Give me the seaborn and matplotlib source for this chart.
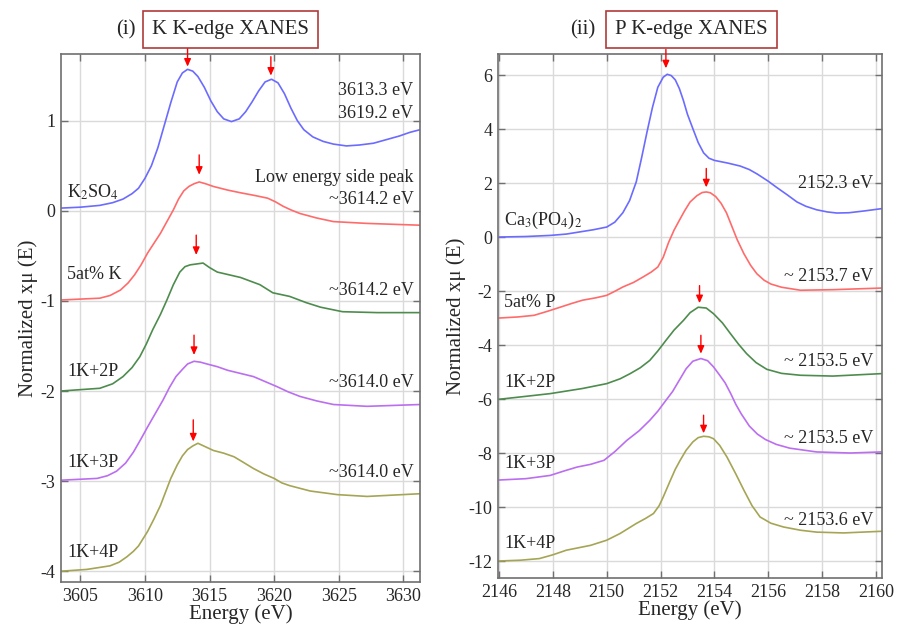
import numpy as np
import pandas as pd
import matplotlib
matplotlib.use("Agg")
import matplotlib.pyplot as plt
import seaborn as sns

# ---- K K-edge data (energy eV, normalized xmu with offsets) ----
k_k2so4_x = [3603.5, 3605.0, 3606.5, 3607.5, 3608.3, 3609.0, 3609.5, 3610.0, 3610.5, 3611.0, 3611.5,
             3612.0, 3612.5, 3612.9, 3613.3, 3613.7, 3614.1, 3614.6, 3615.1, 3615.6, 3616.1, 3616.7,
             3617.3, 3617.8, 3618.3, 3618.8, 3619.3, 3619.8, 3620.3, 3620.8, 3621.3, 3621.8, 3622.3,
             3623.0, 3623.8, 3624.6, 3625.6, 3626.6, 3627.7, 3628.7, 3629.7, 3630.5, 3631.3]
k_k2so4_y = [0.03, 0.04, 0.06, 0.09, 0.13, 0.19, 0.25, 0.36, 0.50, 0.70, 0.95,
             1.20, 1.43, 1.53, 1.57, 1.55, 1.49, 1.37, 1.22, 1.10, 1.02, 0.99,
             1.02, 1.10, 1.21, 1.33, 1.43, 1.46, 1.42, 1.30, 1.14, 1.00, 0.90,
             0.82, 0.77, 0.74, 0.72, 0.73, 0.75, 0.79, 0.83, 0.87, 0.90]

k_5atk_x = [3603.5, 3605.0, 3606.5, 3607.3, 3608.1, 3608.7, 3609.2, 3609.7, 3610.2, 3610.7, 3611.2,
            3611.7, 3612.2, 3612.6, 3613.0, 3613.4, 3613.8, 3614.2, 3614.7, 3615.3, 3616.4, 3617.4,
            3618.5, 3619.5, 3620.1, 3620.7, 3621.3, 3622.0, 3623.3, 3624.6, 3627.2, 3631.3]
k_5atk_y = [-0.99, -0.98, -0.97, -0.94, -0.88, -0.80, -0.71, -0.60, -0.47, -0.36, -0.25,
            -0.12, 0.01, 0.13, 0.22, 0.27, 0.30, 0.32, 0.30, 0.27, 0.23, 0.20,
            0.17, 0.14, 0.10, 0.05, 0.01, -0.03, -0.08, -0.12, -0.14, -0.16]

k_1k2p_x = [3603.5, 3606.5, 3607.5, 3608.3, 3609.0, 3609.6, 3610.1, 3610.6, 3611.2, 3611.7, 3612.2,
            3612.7, 3613.1, 3613.5, 3614.0, 3614.5, 3615.0, 3615.6, 3616.5, 3617.4, 3618.9, 3619.9,
            3621.2, 3622.5, 3623.6, 3625.3, 3628.0, 3631.3]
k_1k2p_y = [-2.0, -1.97, -1.92, -1.84, -1.74, -1.62, -1.48, -1.32, -1.15, -0.99, -0.82,
            -0.68, -0.62, -0.60, -0.59, -0.58, -0.63, -0.68, -0.71, -0.74, -0.82, -0.91,
            -0.95, -1.02, -1.07, -1.12, -1.13, -1.13]

k_1k3p_x = [3603.5, 3606.3, 3607.1, 3607.8, 3608.5, 3609.1, 3609.7, 3610.2, 3610.8, 3611.4, 3611.9,
            3612.4, 3612.9, 3613.3, 3613.8, 3614.3, 3614.8, 3615.6, 3616.4, 3618.4, 3620.2, 3621.1,
            3622.0, 3623.3, 3624.6, 3627.2, 3631.3]
k_1k3p_y = [-2.99, -2.97, -2.94, -2.89, -2.80, -2.68, -2.53, -2.40, -2.25, -2.10, -1.96,
            -1.84, -1.76, -1.70, -1.67, -1.68, -1.70, -1.73, -1.77, -1.84, -1.95, -2.01,
            -2.06, -2.11, -2.15, -2.17, -2.15]

k_1k4p_x = [3603.5, 3605.5, 3607.3, 3608.0, 3608.6, 3609.1, 3609.5, 3610.2, 3610.7, 3611.2, 3611.6,
            3612.0, 3612.5, 3612.9, 3613.3, 3613.7, 3614.1, 3614.7, 3615.3, 3616.1, 3616.9, 3617.6,
            3618.4, 3619.2, 3620.0, 3620.6, 3621.2, 3622.8, 3624.9, 3627.2, 3631.3]
k_1k4p_y = [-4.0, -3.98, -3.94, -3.90, -3.84, -3.78, -3.72, -3.56, -3.42, -3.27, -3.12,
            -2.97, -2.82, -2.72, -2.65, -2.61, -2.58, -2.62, -2.66, -2.69, -2.73, -2.79,
            -2.86, -2.92, -2.97, -3.02, -3.05, -3.11, -3.15, -3.17, -3.14]

# ---- P K-edge data ----
p_ca_x = [2146.0, 2147.0, 2147.9, 2148.5, 2149.0, 2149.5, 2150.0, 2150.3, 2150.6, 2150.85, 2151.1,
          2151.3, 2151.5, 2151.7, 2151.9, 2152.1, 2152.25, 2152.4, 2152.55, 2152.7, 2152.85, 2153.0,
          2153.2, 2153.4, 2153.6, 2153.8, 2154.0, 2154.5, 2154.96, 2155.3, 2155.6, 2156.0, 2156.3,
          2156.7, 2157.07, 2157.4, 2157.8, 2158.2, 2158.55, 2159.0, 2159.6, 2160.2]
p_ca_y = [0.0, 0.02, 0.06, 0.11, 0.19, 0.27, 0.37, 0.55, 0.90, 1.35, 2.05,
          2.95, 3.90, 4.80, 5.55, 5.92, 6.03, 5.98, 5.82, 5.50, 5.06, 4.55,
          4.02, 3.50, 3.12, 2.92, 2.84, 2.74, 2.63, 2.50, 2.33, 2.07, 1.85,
          1.57, 1.30, 1.14, 1.01, 0.93, 0.89, 0.90, 0.97, 1.05]

p_5atp_x = [2146.0, 2146.7, 2147.3, 2147.8, 2148.3, 2148.7, 2149.1, 2149.6, 2150.0, 2150.3, 2150.6,
            2151.0, 2151.35, 2151.65, 2151.9, 2152.1, 2152.3, 2152.5, 2152.7, 2152.9, 2153.1, 2153.35,
            2153.55, 2153.7, 2153.85, 2154.05, 2154.25, 2154.45, 2154.65, 2154.85, 2155.1, 2155.35,
            2155.58, 2155.85, 2156.1, 2156.5, 2157.2, 2158.4, 2160.2]
p_5atp_y = [-3.0, -2.96, -2.90, -2.75, -2.59, -2.46, -2.34, -2.25, -2.16, -2.01, -1.85,
            -1.68, -1.48, -1.30, -1.11, -0.75, -0.20, 0.25, 0.62, 0.98, 1.30, 1.53,
            1.65, 1.67, 1.64, 1.50, 1.25, 0.90, 0.40, -0.10, -0.62, -1.05,
            -1.36, -1.60, -1.74, -1.86, -1.97, -1.95, -1.89]

p_1k2p_x = [2146.0, 2147.0, 2147.9, 2149.1, 2150.0, 2150.5, 2150.87, 2151.25, 2151.6, 2151.9, 2152.2,
            2152.5, 2152.85, 2153.1, 2153.4, 2153.7, 2153.97, 2154.3, 2154.6, 2154.9, 2155.2, 2155.55,
            2155.95, 2156.5, 2157.2, 2158.4, 2160.2]
p_1k2p_y = [-6.01, -5.90, -5.80, -5.61, -5.43, -5.25, -5.06, -4.84, -4.57, -4.22, -3.83,
            -3.45, -3.09, -2.80, -2.60, -2.63, -2.84, -3.18, -3.58, -3.97, -4.32, -4.65,
            -4.90, -5.05, -5.12, -5.15, -5.06]

p_1k3p_x = [2146.0, 2147.0, 2147.9, 2148.4, 2148.9, 2149.4, 2149.9, 2150.3, 2150.75, 2151.2, 2151.6,
            2151.9, 2152.2, 2152.45, 2152.7, 2152.95, 2153.2, 2153.5, 2153.75, 2153.97, 2154.2, 2154.4,
            2154.6, 2154.8, 2155.0, 2155.3, 2155.6, 2155.9, 2156.3, 2156.8, 2157.8, 2159.05, 2160.2]
p_1k3p_y = [-9.0, -8.95, -8.83, -8.67, -8.52, -8.42, -8.27, -7.95, -7.53, -7.18, -6.79,
            -6.45, -6.05, -5.72, -5.30, -4.88, -4.60, -4.50, -4.58, -4.81, -5.12, -5.40,
            -5.78, -6.20, -6.55, -7.00, -7.30, -7.50, -7.68, -7.82, -7.96, -8.0, -7.96]

p_1k4p_x = [2146.0, 2146.8, 2147.5, 2148.0, 2148.5, 2149.0, 2149.4, 2150.0, 2150.5, 2151.1, 2151.45,
            2151.74, 2151.95, 2152.1, 2152.35, 2152.55, 2152.73, 2152.95, 2153.2, 2153.4, 2153.6,
            2153.8, 2153.97, 2154.2, 2154.47, 2154.8, 2155.1, 2155.4, 2155.7, 2156.1, 2156.57, 2157.2,
            2157.8, 2158.8, 2160.2]
p_1k4p_y = [-12.0, -11.97, -11.91, -11.77, -11.60, -11.50, -11.42, -11.23, -10.98, -10.61, -10.42,
            -10.24, -9.95, -9.63, -9.05, -8.60, -8.27, -7.90, -7.59, -7.43, -7.38,
            -7.40, -7.47, -7.72, -8.15, -8.78, -9.38, -9.95, -10.37, -10.60, -10.74, -10.86,
            -10.93, -10.96, -10.90]

colors = ["#6b6bff", "#ff6b6b", "#4e8c4e", "#bb6ef0", "#a5a555"]
sample_names = ["K$_2$SO$_4$", "5at% K", "1K+2P", "1K+3P", "1K+4P"]
p_sample_names = ["Ca$_3$(PO$_4$)$_2$", "5at% P", "1K+2P", "1K+3P", "1K+4P"]

# arrows: (x, y_start, y_tip)
k_arrows = [(3613.3, 1.81, 1.60), (3619.75, 1.71, 1.50), (3614.2, 0.62, 0.40),
            (3613.97, -0.27, -0.49), (3613.8, -1.38, -1.60), (3613.74, -2.32, -2.56)]
p_arrows = [(2152.2, 6.95, 6.25), (2153.7, 2.54, 1.84), (2153.45, -1.8, -2.45),
            (2153.5, -3.64, -4.32), (2153.6, -6.6, -7.27)]

k_notes = [("3613.3 eV", 1.34), ("3619.2 eV", 1.08), ("Low energy side peak", 0.37),
           ("~3614.2 eV", 0.12), ("~3614.2 eV", -0.88), ("~3614.0 eV", -1.91), ("~3614.0 eV", -2.9)]
k_label_y = [0.21, -0.71, -1.78, -2.79, -3.79]
p_notes = [("2152.3 eV", 1.98), ("~ 2153.7 eV", -1.45), ("~ 2153.5 eV", -4.62),
           ("~ 2153.5 eV", -7.45), ("~ 2153.6 eV", -10.5)]
p_label_y = [0.62, -2.41, -5.4, -8.4, -11.35]

sns.set_style("whitegrid")
plt.rcParams['font.family'] = ['Liberation Serif', 'DejaVu Serif']
plt.rcParams['mathtext.fontset'] = 'stix'

fig = plt.figure(figsize=(9.01, 6.28), dpi=100)
ax1 = fig.add_axes([0.0677, 0.0732, 0.3985, 0.8408])
ax2 = fig.add_axes([0.5527, 0.0796, 0.4259, 0.8344])


def draw_panel(ax, curves, names, label_y, notes, arrows, xlim, ylim, xticks, yticks, label_x, note_x):
    for (xs, ys), c in zip(curves, colors):
        d = pd.DataFrame({"E": xs, "mu": ys})
        sns.lineplot(data=d, x="E", y="mu", ax=ax, color=c, lw=1.2, sort=False)
    for name, y in zip(names, label_y):
        ax.text(label_x, y, name, fontsize=13, ha="left", va="center")
    for txt, y in notes:
        ax.text(note_x, y, txt, fontsize=13, ha="right", va="center")
    for x, y0, y1 in arrows:
        ax.annotate("", xy=(x, y1), xytext=(x, y0), annotation_clip=False,
                    arrowprops=dict(arrowstyle="-|>,head_length=0.45,head_width=0.2",
                                    color="red", lw=1.0, shrinkA=0, shrinkB=0))
    ax.set_xlim(*xlim)
    ax.set_ylim(*ylim)
    ax.set_xticks(xticks)
    ax.set_yticks(yticks)
    ax.set_xlabel("Energy (eV)", fontsize=15, labelpad=0)
    ax.set_ylabel("Normalized x\u03bc (E)", fontsize=15, labelpad=2)
    ax.grid(True, color="#dadada", lw=1)
    for s in ax.spines.values():
        s.set_color("#707070")
        s.set_linewidth(1.2)
    ax.tick_params(direction="in", length=5, width=1, color="#707070", labelsize=13,
                   top=True, right=True, bottom=True, left=True, pad=4)


draw_panel(ax1,
           [(k_k2so4_x, k_k2so4_y), (k_5atk_x, k_5atk_y), (k_1k2p_x, k_1k2p_y),
            (k_1k3p_x, k_1k3p_y), (k_1k4p_x, k_1k4p_y)],
           sample_names, k_label_y, k_notes, k_arrows,
           (3603.5, 3631.3), (-4.12, 1.74), [3605, 3610, 3615, 3620, 3625, 3630],
           [-4, -3, -2, -1, 0, 1], 3604.0, 3630.8)
ax1.set_yticklabels(["-4", "-3", "-2", "-1", "0", "1"])

draw_panel(ax2,
           [(p_ca_x, p_ca_y), (p_5atp_x, p_5atp_y), (p_1k2p_x, p_1k2p_y),
            (p_1k3p_x, p_1k3p_y), (p_1k4p_x, p_1k4p_y)],
           p_sample_names, p_label_y, p_notes, p_arrows,
           (2145.96, 2160.22), (-12.63, 6.78), list(range(2146, 2161, 2)),
           list(range(-12, 7, 2)), 2146.2, 2159.9)
ax2.set_yticklabels([str(v) for v in range(-12, 7, 2)])

box = dict(boxstyle="square,pad=0.42", fc="white", ec="#b03a3a", lw=1.2)
fig.text(0.140, 0.953, "(i)", fontsize=15, ha="center", va="center")
fig.text(0.256, 0.953, "K K-edge XANES", fontsize=15, ha="center", va="center", bbox=box)
fig.text(0.647, 0.953, "(ii)", fontsize=15, ha="center", va="center")
fig.text(0.7675, 0.953, "P K-edge XANES", fontsize=15, ha="center", va="center", bbox=box)

fig.savefig("out.png", dpi=100)
